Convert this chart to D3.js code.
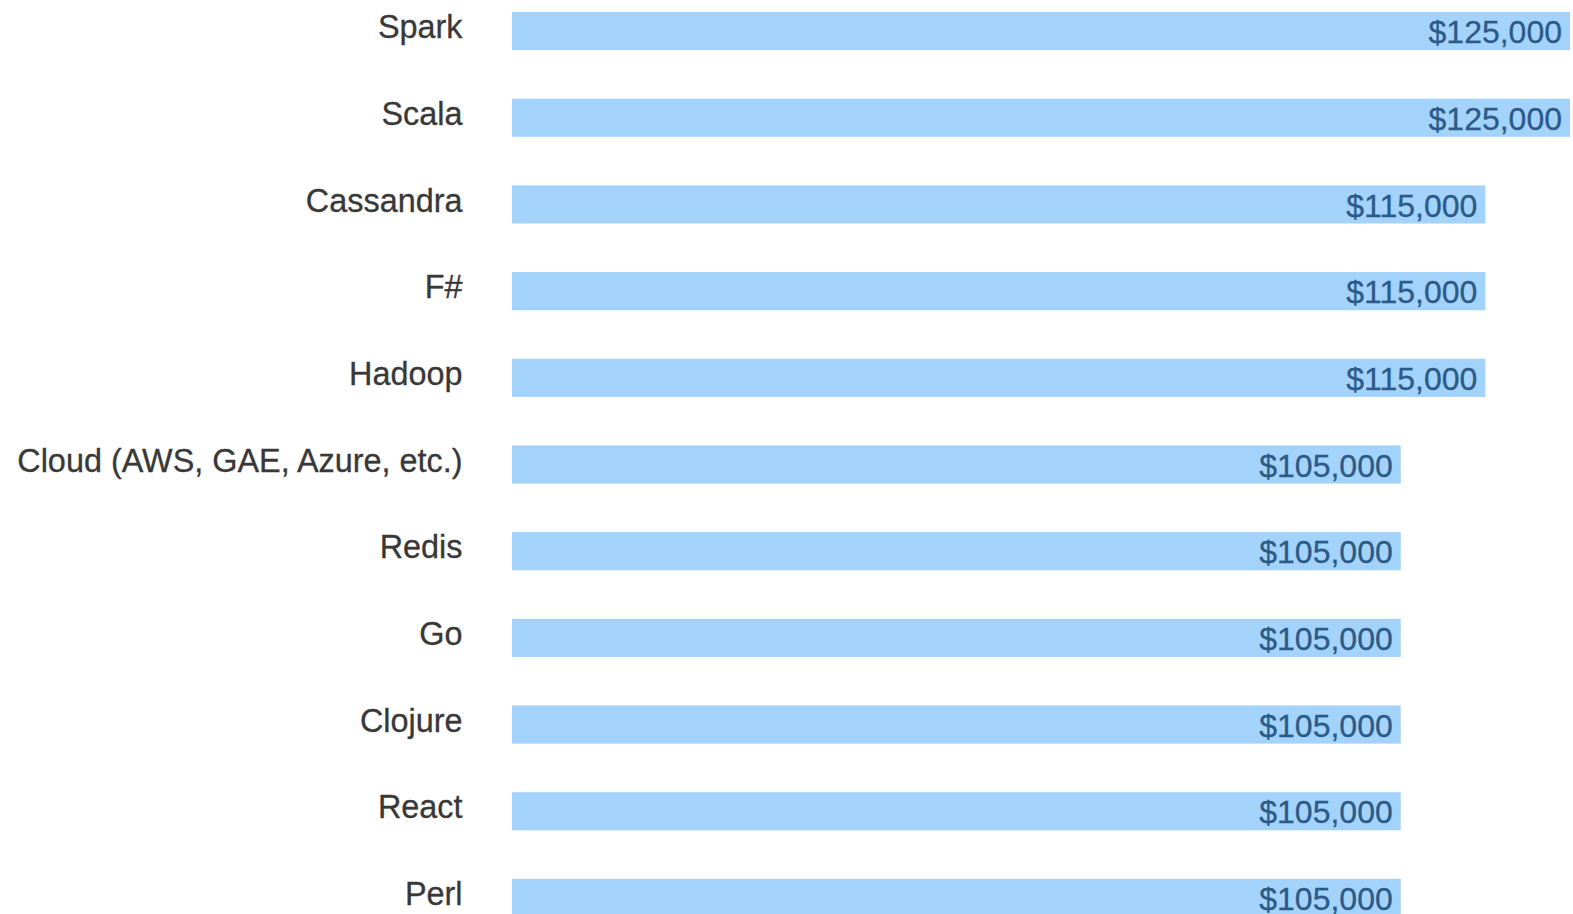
<!DOCTYPE html>
<html>
<head>
<meta charset="utf-8">
<script src="https://cdn.jsdelivr.net/npm/d3@7"></script>
<style>
  html, body { margin: 0; padding: 0; background: #fff; overflow: hidden; }
  .label { fill: #383838; stroke: #383838; stroke-width: 0.3px; font-family: "Liberation Sans", Arial, sans-serif; font-size: 32.4px; }
  .value { fill: #2c5a88; stroke: #2c5a88; stroke-width: 0.3px; font-family: "Liberation Sans", Arial, sans-serif; font-size: 32px; }
  .bar { fill: #a3d3fb; }
</style>
</head>
<body>
<svg id="chart" width="1573" height="914"></svg>
<script>
const skills = ["Spark", "Scala", "Cassandra", "F#", "Hadoop",
  "Cloud (AWS, GAE, Azure, etc.)", "Redis", "Go", "Clojure", "React", "Perl"];
const salaries = [125000, 125000, 115000, 115000, 115000,
  105000, 105000, 105000, 105000, 105000, 105000];

const data = skills.map((s, i) => ({skill: s, salary: salaries[i]}));

const svg = d3.select("#chart"),
  left = 512,
  labelGap = 49.5;

const x = d3.scaleLinear()
    .domain([0, 125000])
    .range([left, 1570]);

const y = d3.scaleBand()
    .domain(skills)
    .range([12, 917])
    .paddingInner(0.56)
    .paddingOuter(0);

const fmt = d3.format("$,.0f");

const row = svg.selectAll(".row")
  .data(data)
  .enter().append("g")
    .attr("class", "row");

row.append("rect")
    .attr("class", "bar")
    .attr("x", x(0))
    .attr("y", d => y(d.skill))
    .attr("width", d => x(d.salary) - x(0))
    .attr("height", y.bandwidth());

row.append("text")
    .attr("class", "label")
    .attr("x", left - labelGap)
    .attr("y", d => y(d.skill) + y.bandwidth() / 2)
    .attr("dy", "0.22em")
    .attr("text-anchor", "end")
    .text(d => d.skill);

row.append("text")
    .attr("class", "value")
    .attr("x", d => x(d.salary) - 8)
    .attr("y", d => y(d.skill) + y.bandwidth() / 2)
    .attr("dy", "0.38em")
    .attr("text-anchor", "end")
    .text(d => fmt(d.salary));
</script>
</body>
</html>
